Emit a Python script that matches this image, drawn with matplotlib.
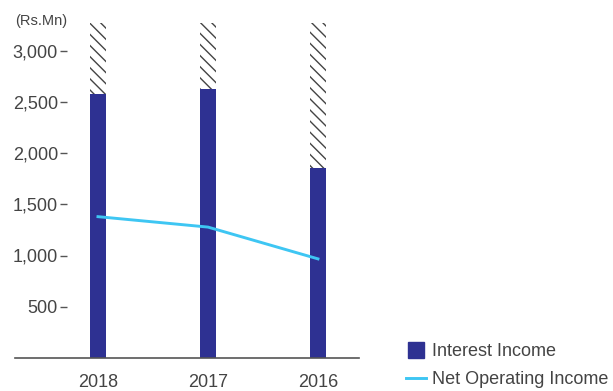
import matplotlib.pyplot as plt
from matplotlib.lines import Line2D

years = ['2018', '2017', '2016']
interest_income = [2585, 2630, 1860]
net_operating_income = [1380, 1278, 967]
break_top = 3275   # where the hatched "axis break" part of each bar ends

plt.rcParams['font.family'] = ['Liberation Sans', 'DejaVu Sans']
plt.rcParams['hatch.linewidth'] = 1.0

bar_col = '#2e3192'
line_col = '#3ec6f3'
txt_col = '#444444'
back_hatch = chr(92) * 3   # backslash hatch, ~11px apart

fig = plt.figure(figsize=(6.13, 3.91), dpi=100)
ax = fig.add_axes([15/613, 1 - 357.7/391, 344/613, 357.7/391])

x = list(range(len(years)))
ax.bar(x, interest_income, width=0.145, color=bar_col, zorder=2)
ax.bar(x, [break_top - v for v in interest_income], bottom=interest_income,
       width=0.145, color='white', edgecolor='#444444', hatch=back_hatch,
       linewidth=0, zorder=2)
ax.plot(x, net_operating_income, color=line_col, lw=2.1, zorder=3)

ax.set_xlim(-0.7545, 2.373)
ax.set_ylim(0, 3500)

ax.set_xticks(x)
ax.set_xticklabels(years)
ax.set_yticks([500, 1000, 1500, 2000, 2500, 3000])
ax.set_yticklabels(['500', '1,000', '1,500', '2,000', '2,500', '3,000'])

for s in ['top', 'right']:
    ax.spines[s].set_visible(False)
ax.spines['left'].set_position(('axes', 52/344))
ax.spines['left'].set_color('none')
ax.spines['bottom'].set_color('#555555')
ax.spines['bottom'].set_linewidth(1.2)

ax.tick_params(axis='x', length=0, pad=12, labelsize=13, labelcolor=txt_col)
ax.tick_params(axis='y', length=5, width=1, color='#555555', pad=1.5,
               labelsize=13, labelcolor=txt_col)

ax.text(0, 1 - 21/357.7, '(Rs.Mn)', transform=ax.transAxes, ha='left',
        va='center', fontsize=10.5, color=txt_col)

handles = [Line2D([], [], marker='s', markersize=11, linestyle='none', color=bar_col),
           Line2D([], [], color=line_col, lw=2.1)]
fig.legend(handles, ['Interest Income', 'Net Operating Income'],
           loc='upper left', bbox_to_anchor=(397/613, 1 - 334/391),
           frameon=False, fontsize=13, handlelength=1.1, handletextpad=0.35,
           labelspacing=0.6, borderpad=0, labelcolor=txt_col)

fig.savefig('out.png', dpi=100)
